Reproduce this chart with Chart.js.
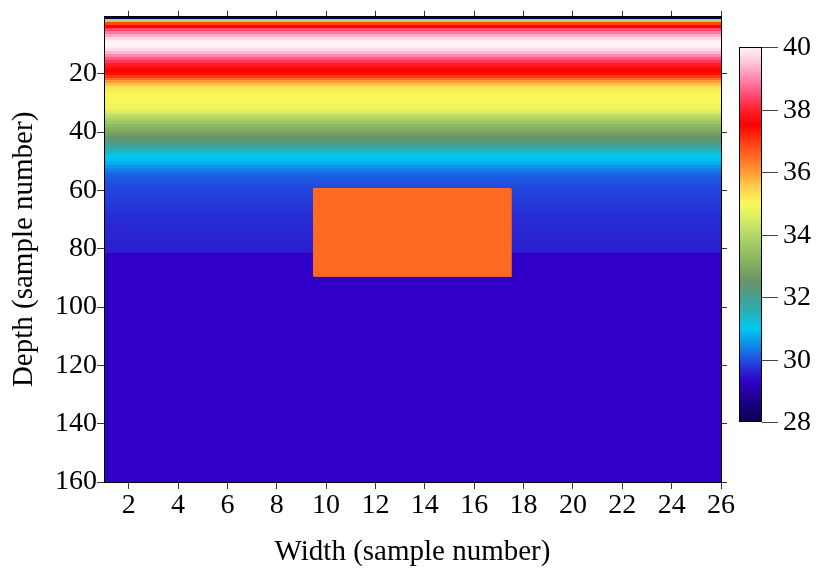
<!DOCTYPE html>
<html>
<head>
<meta charset="utf-8">
<script src="https://cdn.jsdelivr.net/npm/chart.js@4/dist/chart.umd.min.js"></script>
<style>
  html, body { margin: 0; padding: 0; background: #ffffff; }
  #c { display: block; }
</style>
</head>
<body>
<canvas id="c" width="819" height="574"></canvas>
<script>
// ---------------- data ----------------
const widthSamples = [1,2,3,4,5,6,7,8,9,10,11,12,13,14,15,16,17,18,19,20,21,22,23,24,25,26];
const xTickValues = [2,4,6,8,10,12,14,16,18,20,22,24,26];
const yTickValues = [20,40,60,80,100,120,140,160];
const colorbarTicks = [28,30,32,34,36,38,40];

// value of each depth sample (rows 1..160), same across the width
const depthProfile = [
  28.1, 34.0, 36.9, 37.5, 38.4, 38.9, 39.3, 39.7, 39.95, 40.0,
  39.95, 39.75, 39.4, 39.0, 38.6, 38.25, 37.95, 37.7, 37.5, 37.4,
  37.0, 36.5, 36.0, 35.6, 35.3, 35.15, 35.05, 35.0, 34.98, 34.95,
  34.9, 34.8, 34.55, 34.3, 34.05, 33.8, 33.55, 33.3, 33.1, 32.9,
  32.7, 32.5, 32.3, 32.05, 31.8, 31.6, 31.35, 31.15, 31.0, 30.9,
  30.75, 30.55, 30.4, 30.25, 30.15, 30.08, 30.02, 29.98, 29.95, 29.92,
  29.9, 29.88, 29.85, 29.83, 29.8, 29.78, 29.75, 29.73, 29.71, 29.7,
  29.68, 29.67, 29.66, 29.65, 29.64, 29.63, 29.62, 29.61, 29.6, 29.6,
  29.59, 29.3, 29.3, 29.3, 29.3, 29.3, 29.3, 29.3, 29.3, 29.3,
  29.3, 29.3, 29.3, 29.3, 29.3, 29.3, 29.3, 29.3, 29.3, 29.3,
  29.3, 29.3, 29.3, 29.3, 29.3, 29.3, 29.3, 29.3, 29.3, 29.3,
  29.3, 29.3, 29.3, 29.3, 29.3, 29.3, 29.3, 29.3, 29.3, 29.3,
  29.3, 29.3, 29.3, 29.3, 29.3, 29.3, 29.3, 29.3, 29.3, 29.3,
  29.3, 29.3, 29.3, 29.3, 29.3, 29.3, 29.3, 29.3, 29.3, 29.3,
  29.3, 29.3, 29.3, 29.3, 29.3, 29.3, 29.3, 29.3, 29.3, 29.3,
  29.3, 29.3, 29.3, 29.3, 29.3, 29.3, 29.3, 29.3, 29.3, 29.3
];

// anomaly block
const anomalyColumns = [10, 11, 12, 13, 14, 15, 16, 17];
const anomalyRowRange = [60, 89];
const anomalyValue = 36.5;

// colour map
const cmapValues = [28.0, 28.5, 29.0, 29.3, 29.6, 30.0, 30.5, 31.0, 31.5, 32.0, 32.5, 33.0, 33.5, 34.0, 34.5, 35.0, 35.5, 36.0, 36.5, 37.0, 37.5, 38.0, 38.5, 39.0, 39.5, 40.0];
const cmapColors = ['#080050', '#180078', '#2800a8', '#3000c8', '#2a20d0', '#2050e0', '#0c90e8', '#00c8f0', '#28b0b8', '#48a090', '#689468', '#80ac60', '#98c464', '#b4d868', '#d8ec64', '#f8f858', '#ffd050', '#ff9a34', '#ff6a22', '#ff3a12', '#ff0000', '#ff2030', '#ff5078', '#ff88b0', '#ffc4d8', '#fff4f8'];

// ---------------- helpers ----------------
function hexToRgb(h) {
  return [parseInt(h.substr(1,2),16), parseInt(h.substr(3,2),16), parseInt(h.substr(5,2),16)];
}
const cmapRgb = cmapColors.map(hexToRgb);
function colorFor(v) {
  if (v <= cmapValues[0]) return cmapColors[0];
  const n = cmapValues.length;
  if (v >= cmapValues[n-1]) return cmapColors[n-1];
  for (let i = 0; i < n - 1; i++) {
    if (v >= cmapValues[i] && v <= cmapValues[i+1]) {
      const t = (v - cmapValues[i]) / (cmapValues[i+1] - cmapValues[i]);
      const a = cmapRgb[i], b = cmapRgb[i+1];
      const r = Math.round(a[0] + (b[0]-a[0])*t);
      const g = Math.round(a[1] + (b[1]-a[1])*t);
      const bl = Math.round(a[2] + (b[2]-a[2])*t);
      return 'rgb(' + r + ',' + g + ',' + bl + ')';
    }
  }
  return cmapColors[n-1];
}
function cellValue(row, col) {
  if (anomalyColumns.indexOf(col) >= 0 && row >= anomalyRowRange[0] && row <= anomalyRowRange[1]) return anomalyValue;
  return depthProfile[row - 1];
}

const FONT = "'Liberation Serif', 'Times New Roman', serif";

const heatmapPlugin = {
  id: 'heatmap',
  beforeDraw(chart) {
    const ctx = chart.ctx;
    const xs = chart.scales.x, ys = chart.scales.y;
    const a = chart.chartArea;
    ctx.save();
    ctx.beginPath();
    ctx.rect(a.left, a.top, a.right - a.left, a.bottom - a.top);
    ctx.clip();
    for (let r = 1; r <= depthProfile.length; r++) {
      const ya = ys.getPixelForValue(r - 0.5), yb = ys.getPixelForValue(r + 0.5);
      const y0 = Math.floor(Math.min(ya, yb)), y1 = Math.ceil(Math.max(ya, yb));
      for (const c of widthSamples) {
        const xa = xs.getPixelForValue(c - 0.5), xb = xs.getPixelForValue(c + 0.5);
        const x0 = Math.floor(Math.min(xa, xb)), x1 = Math.ceil(Math.max(xa, xb));
        ctx.fillStyle = colorFor(cellValue(r, c));
        ctx.fillRect(x0, y0, x1 - x0, y1 - y0);
      }
    }
    // redraw anomaly block on top so its edges stay crisp
    for (let r = anomalyRowRange[0]; r <= anomalyRowRange[1]; r++) {
      for (const c of anomalyColumns) {
        const x0 = xs.getPixelForValue(c - 0.5), x1 = xs.getPixelForValue(c + 0.5);
        const y0 = ys.getPixelForValue(r - 0.5), y1 = ys.getPixelForValue(r + 0.5);
        ctx.fillStyle = colorFor(cellValue(r, c));
        ctx.fillRect(x0, Math.min(y0, y1), x1 - x0 + 0.5, Math.abs(y1 - y0) + 0.5);
      }
    }
    ctx.restore();
  },
  afterDraw(chart) {
    const ctx = chart.ctx;
    const cbLeft = 739, cbRight = 762, cbTop = 47, cbBottom = 422;
    const vMin = colorbarTicks[0], vMax = colorbarTicks[colorbarTicks.length - 1];
    const py = v => cbBottom - (v - vMin) / (vMax - vMin) * (cbBottom - cbTop);
    ctx.save();
    const grad = ctx.createLinearGradient(0, cbBottom, 0, cbTop);
    cmapValues.forEach((v, i) => grad.addColorStop((v - vMin) / (vMax - vMin), cmapColors[i]));
    ctx.fillStyle = grad;
    ctx.fillRect(cbLeft, cbTop, cbRight - cbLeft, cbBottom - cbTop);
    ctx.strokeStyle = '#000';
    ctx.lineWidth = 1;
    ctx.strokeRect(cbLeft + 0.5, cbTop + 0.5, cbRight - cbLeft - 1, cbBottom - cbTop - 1);
    ctx.strokeStyle = '#444';
    ctx.fillStyle = '#000';
    ctx.font = '28px ' + FONT;
    ctx.textAlign = 'left';
    ctx.textBaseline = 'middle';
    colorbarTicks.forEach(v => {
      const y = Math.round(py(v)) + 0.5;
      ctx.beginPath();
      ctx.moveTo(cbRight, y);
      ctx.lineTo(cbRight + 16, y);
      ctx.stroke();
      ctx.fillText(String(v), 783, py(v) + 1);
    });
    ctx.restore();
  }
};

function setTicks(values) {
  return function (scale) { scale.ticks = values.map(v => ({ value: v })); };
}

const tickFont = { family: FONT, size: 28 };
const titleFont = { family: FONT, size: 29 };

new Chart(document.getElementById('c'), {
  type: 'scatter',
  data: { datasets: [{ data: [], showLine: false }] },
  options: {
    responsive: false,
    animation: false,
    layout: { padding: 0 },
    plugins: { legend: { display: false }, tooltip: { enabled: false } },
    scales: {
      x: {
        type: 'linear', position: 'bottom', min: 1, max: 26,
        afterBuildTicks: setTicks(xTickValues),
        afterFit: s => { s.height = 92; },
        grid: { drawOnChartArea: false, drawTicks: true, tickLength: 7, color: '#333' },
        border: { display: true, color: '#000', width: 1 },
        ticks: { font: tickFont, color: '#000', padding: 0, maxRotation: 0, autoSkip: false },
        title: { display: true, text: 'Width (sample number)', font: titleFont, color: '#000', padding: { top: 0, bottom: 4 } }
      },
      x2: {
        type: 'linear', position: 'top', min: 1, max: 26,
        afterBuildTicks: setTicks(xTickValues),
        afterFit: s => { s.height = 12.5; },
        grid: { drawOnChartArea: false, drawTicks: true, tickLength: 6, color: '#333' },
        border: { display: true, color: '#000', width: 1 },
        ticks: { display: false }
      },
      y: {
        type: 'linear', position: 'left', min: 0.5, max: 160, reverse: true,
        afterBuildTicks: setTicks(yTickValues),
        afterFit: s => { s.width = 104; },
        grid: { drawOnChartArea: false, drawTicks: true, tickLength: 7, color: '#333' },
        border: { display: true, color: '#000', width: 1 },
        ticks: { font: tickFont, color: '#000', padding: 0, autoSkip: false },
        title: { display: true, text: 'Depth (sample number)', font: titleFont, color: '#000', padding: { top: 7, bottom: 0 } }
      },
      y2: {
        type: 'linear', position: 'right', min: 0.5, max: 160, reverse: true,
        afterBuildTicks: setTicks(yTickValues),
        afterFit: s => { s.width = 98; },
        grid: { drawOnChartArea: false, drawTicks: true, tickLength: 6, color: '#333' },
        border: { display: true, color: '#000', width: 1 },
        ticks: { display: false }
      }
    }
  },
  plugins: [heatmapPlugin]
});
</script>
</body>
</html>
